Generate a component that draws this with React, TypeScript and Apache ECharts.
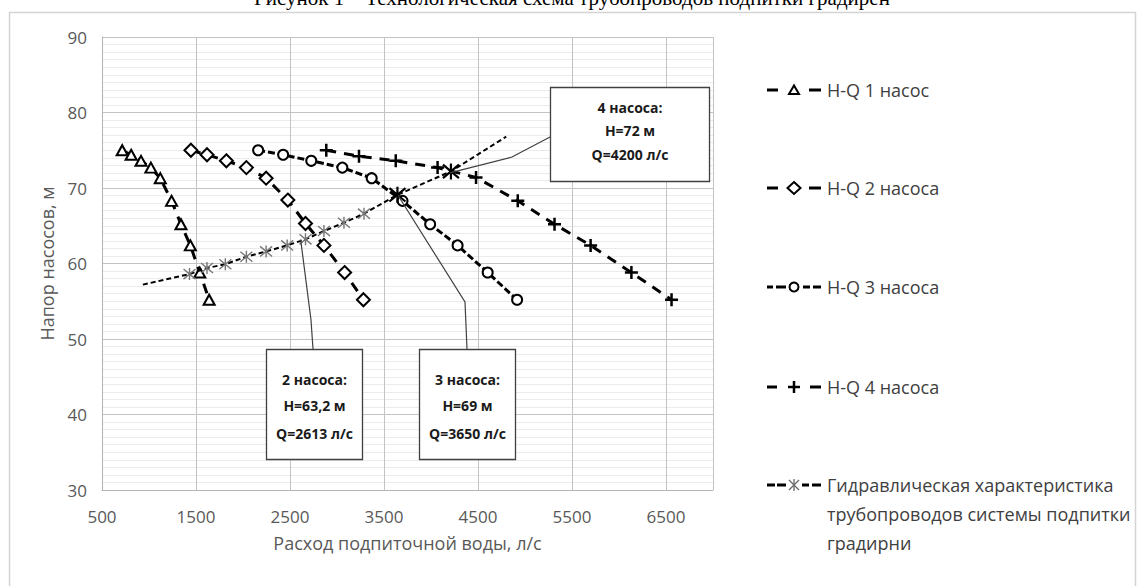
import React, { useEffect, useRef } from 'react';
import * as echarts from 'echarts';

// ---------- DATA ----------
const titleText = 'Рисунок 1 – Технологическая схема трубопроводов подпитки градирен';
const xAxisName = 'Расход подпиточной воды, л/с';
const yAxisName = 'Напор насосов, м';

const seriesNames = [
  'H-Q 1 насос',
  'H-Q 2 насоса',
  'H-Q 3 насоса',
  'H-Q 4 насоса',
  'Гидравлическая характеристика трубопроводов системы подпитки градирни',
];
const legendLines5 = ['Гидравлическая характеристика', 'трубопроводов системы подпитки', 'градирни'];

const q1 = [715, 810, 915, 1020, 1120, 1240, 1340, 1440, 1540, 1640];
const h1 = [75, 74.4, 73.6, 72.7, 71.3, 68.3, 65.2, 62.4, 58.8, 55.2];
const q2 = [1446, 1617, 1823, 2036, 2246, 2477, 2665, 2861, 3081, 3281];
const h2 = [75, 74.4, 73.6, 72.7, 71.3, 68.4, 65.3, 62.4, 58.8, 55.2];
const q3 = [2161, 2427, 2726, 3057, 3369, 3697, 3991, 4283, 4603, 4916];
const h3 = [75, 74.4, 73.6, 72.7, 71.3, 68.3, 65.2, 62.4, 58.8, 55.2];
const q4 = [2886, 3234, 3625, 4070, 4479, 4923, 5314, 5698, 6132, 6559];
const h4 = [75, 74.2, 73.6, 72.7, 71.4, 68.3, 65.2, 62.4, 58.8, 55.2];

// hydraulic characteristic of the pipelines
const hydQ = [935, 1431, 1617, 1812, 2036, 2246, 2470, 2665, 2861, 3074, 3287, 3643, 4212, 4800];
const hydH = [57.2, 58.6, 59.4, 59.9, 60.9, 61.6, 62.4, 63.2, 64.3, 65.4, 66.6, 69.1, 72.2, 76.8];
// 0 = no marker, 1 = regular star, 2 = highlighted intersection star
const hydKind = [0, 1, 1, 1, 1, 1, 1, 1, 1, 1, 1, 2, 2, 0];

// operating points (annotations)
const annQ = [2613, 3650, 4200];
const annH = [63.2, 69, 72];
const annText = [
  ['2 насоса:', 'H=63,2 м', 'Q=2613 л/с'],
  ['3 насоса:', 'H=69 м', 'Q=3650 л/с'],
  ['4 насоса:', 'H=72 м', 'Q=4200 л/с'],
];

const xMin = 500;
const xMax = 7000;
const xStep = 500;
const xLabelStep = 1000;
const yMin = 30;
const yMax = 90;
const yStep = 10;

// ---------- STYLE ----------
const SANS = "'Open Sans', 'Noto Sans', sans-serif";
const PLUS = 'path://M5,0L5,10M0,5L10,5';
const STAR = 'path://M5,0L5,10M0.8,0.8L9.2,9.2M9.2,0.8L0.8,9.2';

const GRID = { left: 102, top: 37, width: 611, height: 453 };

// box layouts for annotations (pixels)
const boxes = [
  { x: 266, y: 349, w: 96, h: 110, lines: [30, 56, 84], elbow: [311, 320], end: [313, 349] },
  { x: 419, y: 349, w: 96, h: 110, lines: [30, 56, 84], elbow: [465, 302], end: [467, 349] },
  { x: 550, y: 87, w: 159, h: 94, lines: [20, 43, 67], elbow: [512, 157], end: [550, 137] },
];

const legendY = [90, 188, 287, 387, 485];

function text(x: number, y: number, t: string, opts: any = {}) {
  const align = opts.align || 'left';
  const va = opts.va || 'middle';
  return {
    type: 'text',
    x,
    y,
    silent: true,
    z: opts.z || 100,
    style: {
      text: t,
      fontFamily: opts.family || SANS,
      fontSize: opts.size || 18,
      fontWeight: opts.weight || 'normal',
      fill: opts.fill || '#404040',
      align,
      verticalAlign: va,
      textAlign: align,
      textVerticalAlign: va,
    },
  };
}

function seg(x1: number, y1: number, x2: number, y2: number, w: number, color = '#000', dash?: number[]) {
  return {
    type: 'line',
    silent: true,
    z: 100,
    shape: { x1, y1, x2, y2 },
    style: { stroke: color, lineWidth: w, lineDash: dash || null },
  };
}

function legendGraphics() {
  const els: any[] = [];
  const L = 767;
  const R = 821;
  const cx = 794;
  // 1: long dash, triangle
  let y = legendY[0];
  els.push(seg(L, y, 778, y, 3), seg(809, y, R, y, 3));
  els.push({
    type: 'polygon', silent: true, z: 100,
    shape: { points: [[cx, y - 4.5], [cx - 5, y + 4], [cx + 5, y + 4]] },
    style: { fill: '#fff', stroke: '#000', lineWidth: 2 },
  });
  // 2: long dash, diamond
  y = legendY[1];
  els.push(seg(L, y, 778, y, 3), seg(809, y, R, y, 3));
  els.push({
    type: 'polygon', silent: true, z: 100,
    shape: { points: [[cx, y - 6], [cx + 6.5, y], [cx, y + 6], [cx - 6.5, y]] },
    style: { fill: '#fff', stroke: '#000', lineWidth: 2 },
  });
  // 3: short dash, circle
  y = legendY[2];
  els.push(seg(L, y, 773, y, 3), seg(776, y, 786, y, 3), seg(803, y, 810, y, 3), seg(813, y, R, y, 3));
  els.push({
    type: 'circle', silent: true, z: 100,
    shape: { cx, cy: y, r: 4.5 },
    style: { fill: '#fff', stroke: '#000', lineWidth: 2 },
  });
  // 4: long dash, plus
  y = legendY[3];
  els.push(seg(L, y, 777, y, 3), seg(810, y, R, y, 3));
  els.push(seg(cx - 6, y, cx + 6, y, 2.5), seg(cx, y - 6, cx, y + 6, 2.5));
  // 5: short dash, star
  y = legendY[4];
  els.push(seg(L, y, 775, y, 3), seg(777, y, 786, y, 3), seg(802, y, 809, y, 3), seg(812, y, R, y, 3));
  els.push(
    seg(cx, y - 6, cx, y + 6, 1.3, '#666'),
    seg(cx - 5, y - 5, cx + 5, y + 5, 1.3, '#666'),
    seg(cx + 5, y - 5, cx - 5, y + 5, 1.3, '#666')
  );
  // texts
  const tx = 827;
  for (let i = 0; i < 4; i++) els.push(text(tx, legendY[i], seriesNames[i], { size: 18 }));
  legendLines5.forEach((t, i) => els.push(text(tx, legendY[4] + i * 29, t, { size: 18 })));
  return els;
}

function pumpSeries(name: string, q: number[], h: number[], symbol: string, size: any, dash: number[], bw = 2) {
  return {
    name,
    type: 'line',
    data: q.map((v, i) => [v, h[i]]),
    symbol,
    symbolSize: size,
    showAllSymbol: true,
    silent: true,
    emphasis: { disabled: true },
    lineStyle: { color: '#000', width: 3, type: dash },
    itemStyle: { color: '#fff', borderColor: '#000', borderWidth: bw },
    xAxisIndex: 0,
    yAxisIndex: 0,
    z: 3,
  };
}

export default function App() {
  const ref = useRef<HTMLDivElement>(null);
  useEffect(() => {
    document.body.style.margin = '0';
    const chart = echarts.init(ref.current!, null, { renderer: 'svg' });

    const hydData = hydQ.map((q, i) => {
      const k = hydKind[i];
      const item: any = { value: [q, hydH[i]] };
      if (k === 0) item.symbol = 'none';
      if (k === 2) {
        item.symbolSize = 16;
        item.itemStyle = { color: '#000', borderColor: '#000', borderWidth: 2.2 };
      }
      return item;
    });

    const span = xMax - xMin;
    const option: any = {
      animation: false,
      backgroundColor: '#fff',
      textStyle: { fontFamily: SANS },
      grid: { ...GRID, containLabel: false },
      xAxis: [
        {
          type: 'value',
          min: xMin,
          max: xMax,
          interval: xStep,
          name: xAxisName,
          nameLocation: 'middle',
          nameGap: 44,
          nameTextStyle: { fontSize: 18, color: '#595959', fontFamily: SANS },
          axisLine: { show: true, lineStyle: { color: '#b3b3b3', width: 1 } },
          axisTick: { show: false },
          splitLine: { show: false },
          axisLabel: {
            fontSize: 17,
            color: '#595959',
            fontFamily: SANS,
            margin: 18,
            formatter: (v: number) => ((v - xMin) % xLabelStep === 0 && v < xMax ? String(v) : ''),
          },
        },
        {
          // helper axis (offset by xMin) that carries the vertical grid lines every 1000
          type: 'value',
          min: 0,
          max: span,
          interval: xLabelStep,
          position: 'bottom',
          show: true,
          axisLine: { show: false },
          axisTick: { show: false },
          axisLabel: { show: false },
          splitLine: { show: true, lineStyle: { color: '#c4c4c4', width: 1 } },
        },
      ],
      yAxis: {
        type: 'value',
        min: yMin,
        max: yMax,
        interval: yStep,
        name: yAxisName,
        nameLocation: 'middle',
        nameGap: 46,
        nameTextStyle: { fontSize: 18, color: '#595959', fontFamily: SANS },
        axisLine: { show: true, lineStyle: { color: '#b3b3b3', width: 1 } },
        axisTick: { show: false },
        axisLabel: { fontSize: 17, color: '#595959', fontFamily: SANS, margin: 15 },
        splitLine: { show: true, lineStyle: { color: '#c4c4c4', width: 1 } },
        minorTick: { show: false, splitNumber: 10 },
        minorSplitLine: { show: true, lineStyle: { color: '#ebebeb', width: 1 } },
      },
      series: [
        pumpSeries(seriesNames[0], q1, h1, 'triangle', [11, 10], [10, 8]),
        pumpSeries(seriesNames[1], q2, h2, 'diamond', [13, 13], [10, 8]),
        pumpSeries(seriesNames[2], q3, h3, 'circle', 10, [7, 3]),
        pumpSeries(seriesNames[3], q4, h4, PLUS, 13, [10, 8], 2.5),
        {
          name: seriesNames[4],
          type: 'line',
          data: hydData,
          symbol: STAR,
          symbolSize: 12,
          showAllSymbol: true,
          silent: true,
          emphasis: { disabled: true },
          lineStyle: { color: '#000', width: 2, type: [5, 3] },
          itemStyle: { color: '#777', borderColor: '#777', borderWidth: 1.4 },
          xAxisIndex: 0,
          yAxisIndex: 0,
          z: 4,
        },
      ],
    };
    chart.setOption(option);

    const g: any[] = [];
    // outer chart border
    g.push({
      type: 'rect', silent: true, z: 0,
      shape: { x: 9.5, y: 12.5, width: 1126, height: 620 },
      style: { fill: 'none', stroke: '#d4d4d4', lineWidth: 1.5 },
    });
    // cut-off figure caption at the very top
    g.push(text(572, -2, titleText, { size: 21, family: "'Liberation Serif', 'DejaVu Serif', serif", fill: '#000', align: 'center' }));

    // annotations with callouts
    annQ.forEach((q, i) => {
      const p = chart.convertToPixel({ xAxisIndex: 0, yAxisIndex: 0 }, [q, annH[i]]) as number[];
      const b = boxes[i];
      g.push({
        type: 'polyline', silent: true, z: 90,
        shape: { points: [[p[0], p[1]], b.elbow, b.end] },
        style: { stroke: '#404040', lineWidth: 1.2, fill: null },
      });
      g.push({
        type: 'rect', silent: true, z: 95,
        shape: { x: b.x + 0.5, y: b.y + 0.5, width: b.w, height: b.h },
        style: { fill: '#fff', stroke: '#404040', lineWidth: 1.3 },
      });
      annText[i].forEach((t, j) =>
        g.push(text(b.x + b.w / 2 + 0.5, b.y + b.lines[j], t, { size: 14, weight: 'bold', fill: '#1a1a1a', align: 'center' }))
      );
    });

    g.push(...legendGraphics());
    chart.setOption({ graphic: g });

    return () => chart.dispose();
  }, []);
  return <div ref={ref} style={{ position: 'absolute', left: 0, top: 0, width: 1144, height: 586 }} />;
}
